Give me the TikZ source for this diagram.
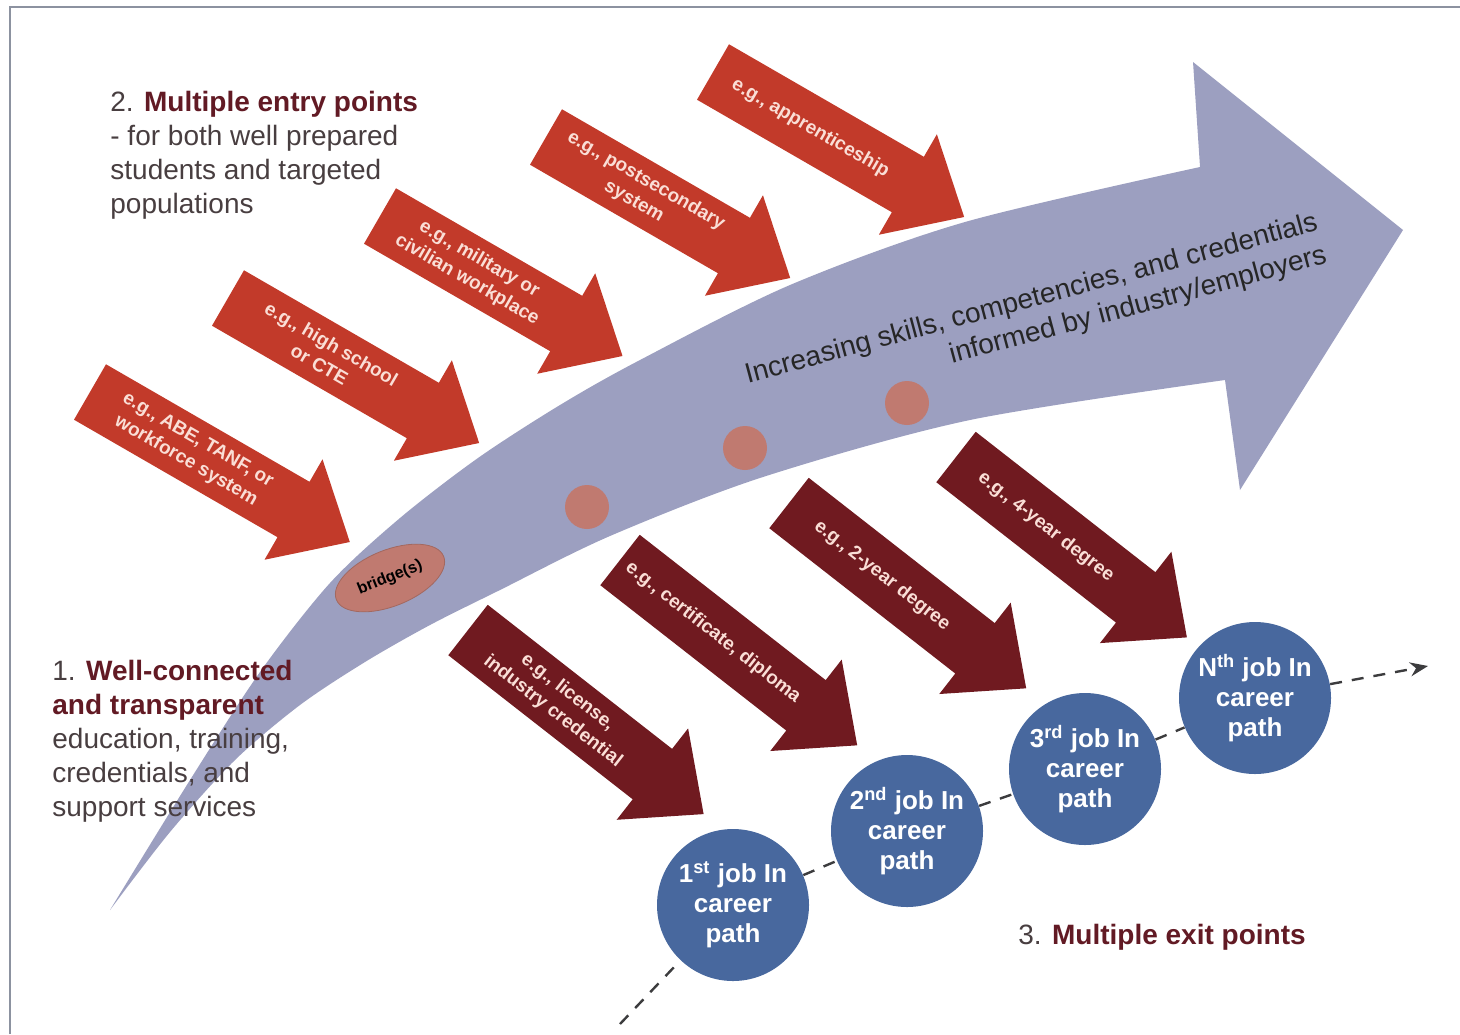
\documentclass[tikz,border=0pt]{standalone}
\usepackage{fontspec}
\setmainfont{Liberation Sans}
\usepackage{tikz}
\usetikzlibrary{shapes.geometric,arrows.meta}
\definecolor{trackblue}{RGB}{156,159,192}
\definecolor{entryred}{RGB}{194,58,42}
\definecolor{exitred}{RGB}{112,26,32}
\definecolor{jobblue}{RGB}{72,104,158}
\definecolor{dotred}{RGB}{192,122,112}
\definecolor{labelpink}{RGB}{250,222,214}
\definecolor{headred}{RGB}{98,26,36}
\definecolor{bodygray}{RGB}{72,62,64}
\definecolor{framegray}{RGB}{140,146,160}
\definecolor{dashgray}{RGB}{60,60,62}

\begin{document}
\begin{tikzpicture}[>={Stealth[length=9pt,width=7pt]}, x=0.5pt, y=-0.5pt,
    job/.style={circle, fill=jobblue, minimum size=76pt, inner sep=0pt, text=white,
      align=center, font=\bfseries\fontsize{13}{15}\selectfont},
    stop/.style={circle, fill=dotred, minimum size=22pt, inner sep=0pt},
    arrowlabel/.style={text=labelpink, align=center, transform shape,
      font=\bfseries\fontsize{9.5}{12}\selectfont},
    note/.style={anchor=north west, inner sep=0pt, align=left, text=bodygray,
      font=\fontsize{14}{17}\selectfont},
    careerpath/.style={dashed, dashgray, line width=1.2pt, dash pattern=on 6pt off 5pt}]
  \useasboundingbox (0,0) rectangle (1460,1034);
  \draw[framegray, line width=1pt] (10,1034) -- (10,7) -- (1460,7);

  % big curved arrow
  \fill[trackblue] plot[smooth] coordinates {(110,910) (190,780) (260,672) (330,583)
      (400,518) (478,458) (560,405) (640,360) (790,285) (965,222) (1200,167)}
    -- (1193,62) -- (1403,230) -- (1240,490)
    -- plot[smooth] coordinates {(1225,380) (970,420) (763,477) (610,536) (500,590)
      (430,625) (365,662) (300,705) (235,760) (170,832) (110,910)} -- cycle;
  \node[ellipse, fill=dotred, draw=dotred!85!black, minimum width=52pt, minimum height=28pt,
    rotate=22, font=\bfseries\fontsize{8}{9}\selectfont] (bridge) at (390,578) {bridge(s)};
  \foreach \x/\y [count=\i] in {587/507, 745/448, 907/403}
    \node[stop] (stop\i) at (\x,\y) {};
  \node[rotate=15, align=right, font=\fontsize{14}{17}\selectfont, text=black!85] (trend)
    at (1036,316) {Increasing skills, competencies, and credentials\\informed by industry/employers};

  % entry arrows
  \foreach \tx/\ty/\len/\name/\txt in {
      90/392/300/abe/{e.g., ABE, TANF, or\\workforce system},
      228/298/290/school/{e.g., high school\\or CTE},
      380/216/280/military/{e.g., military or\\civilian workplace},
      546/137/282/postsec/{e.g., postsecondary\\system},
      713/72/290/appr/{e.g., apprenticeship}} {
    \begin{scope}[shift={(\tx,\ty)}, rotate=-30]
      \fill[entryred] (0,-32) -- (\len-65,-32) -- (\len-65,-58) -- (\len,0)
        -- (\len-65,58) -- (\len-65,32) -- (0,32) -- cycle;
      \node[arrowlabel] (\name) at ({(\len-65)/2},0) {\txt};
    \end{scope}
  }

  % exit arrows
  \foreach \tx/\ty/\len/\name/\txt in {
      468/630/299/license/{e.g., license,\\industry credential},
      620/560/301/certificate/{e.g., certificate, diploma},
      789/503/301/twoyear/{e.g., 2-year degree},
      956/457/293/fouryear/{e.g., 4-year degree}} {
    \begin{scope}[shift={(\tx,\ty)}, rotate=-38]
      \fill[exitred] (0,-32) -- (\len-65,-32) -- (\len-65,-58) -- (\len,0)
        -- (\len-65,58) -- (\len-65,32) -- (0,32) -- cycle;
      \node[arrowlabel] (\name) at ({(\len-65)/2},0) {\txt};
    \end{scope}
  }

  % jobs along the career path
  \node[job] (job1) at (733,905) {1\textsuperscript{st} job In\\career\\path};
  \node[job] (job2) at (907,831) {2\textsuperscript{nd} job In\\career\\path};
  \node[job] (job3) at (1085,769) {3\textsuperscript{rd} job In\\career\\path};
  \node[job] (jobN) at (1255,698) {N\textsuperscript{th} job In\\career\\path};
  \coordinate (pathstart) at (620,1024);
  \coordinate (pathend) at (1428,666);
  \draw[careerpath] (pathstart) -- (job1);
  \draw[careerpath] (job1) -- (job2);
  \draw[careerpath] (job2) -- (job3);
  \draw[careerpath] (job3) -- (jobN);
  \draw[careerpath, ->] (jobN) -- (pathend);

  % notes
  \node[note] (entrynote) at (110,91) {2. \textbf{\textcolor{headred}{Multiple entry points}}\\
    - for both well prepared\\students and targeted\\populations};
  \node[note] (linknote) at (52,660) {1. \textbf{\textcolor{headred}{Well-connected}}\\
    \textbf{\textcolor{headred}{and transparent}}\\education, training,\\credentials, and\\support services};
  \node[note] (exitnote) at (1018,924) {3. \textbf{\textcolor{headred}{Multiple exit points}}};
\end{tikzpicture}
\end{document}
